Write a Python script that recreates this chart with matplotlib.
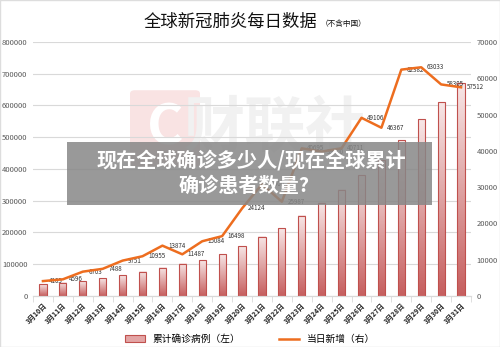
import numpy as np
import matplotlib.pyplot as plt
from matplotlib.patches import Rectangle, FancyBboxPatch
from matplotlib.lines import Line2D
from matplotlib.colors import LinearSegmentedColormap

plt.rcParams['font.family'] = ['Noto Sans CJK SC', 'DejaVu Sans']

dates = ['3月10日', '3月11日', '3月12日', '3月13日', '3月14日', '3月15日',
         '3月16日', '3月17日', '3月18日', '3月19日', '3月20日', '3月21日',
         '3月22日', '3月23日', '3月24日', '3月25日', '3月26日', '3月27日',
         '3月28日', '3月29日', '3月30日', '3月31日']
cumulative = [37000, 42000, 47000, 56000, 66000, 76000, 89000, 101000, 113000,
              132000, 156000, 186000, 213000, 252000, 293000, 334000, 381000,
              428000, 490000, 556000, 611000, 670000]
daily_new = [4105, 4596, 6703, 7488, 9751, 10955, 13874, 11487, 15084, 16498,
             24124, 30800, 25987, 40695, 39800, 40711, 49106, 46367, 62382,
             63033, 58305, 57512]

fig = plt.figure(figsize=(5, 3.47), dpi=100)
ax = fig.add_axes([0.066, 0.147, 0.876, 0.732])
ax.set_facecolor('none')
ax2 = ax.twinx()

x = np.arange(len(dates))

# bars with a vertical gradient, excel style
bars = ax.bar(x, cumulative, width=0.36, facecolor='none', edgecolor='#c0504d',
              linewidth=0.8, zorder=3)
cmap = LinearSegmentedColormap.from_list('pink', ['#c65f5f', '#f7e6e6'])
grad = np.linspace(0, 1, 100).reshape(-1, 1)
for b in bars:
    ax.imshow(grad, extent=(b.get_x(), b.get_x() + b.get_width(), 0, b.get_height()),
              origin='lower', cmap=cmap, aspect='auto', zorder=2)

ax.set_xlim(-0.5, 21.5)
ax.set_ylim(0, 800000)
ax.set_yticks(range(0, 800001, 100000))
ax.yaxis.grid(True, color='#d9d9d9', lw=0.8)
ax.set_axisbelow(True)

ax2.plot(x, daily_new, color='#ED6D1F', lw=1.8, zorder=4)
for xi, v in zip(x, daily_new):
    ax2.annotate(str(v), (xi, v), xytext=(4, 0), textcoords='offset points',
                 fontsize=4.5, ha='left', va='center', color='#333333')
ax2.set_ylim(0, 70000)
ax2.set_yticks(range(0, 70001, 10000))

for a in (ax, ax2):
    for s in ('left', 'right', 'top'):
        a.spines[s].set_visible(False)
    a.spines['bottom'].set_color('#d9d9d9')
    a.tick_params(axis='y', length=0, labelsize=5.5, labelcolor='#595959', pad=4)

ax.set_xticks(x)
ax.set_xticklabels(dates, rotation=45, ha='right', va='top', rotation_mode='anchor',
                   fontsize=5, fontweight='bold', color='#222222')
ax.set_xticks(np.arange(-0.5, 22, 1), minor=True)
ax.tick_params(axis='x', which='major', length=0, pad=4)
ax.tick_params(axis='x', which='minor', length=4, color='#d9d9d9')

# title
fig.text(0.46, 0.937, '全球新冠肺炎每日数据', fontsize=12.5, ha='center', va='center', color='#111111')
fig.text(0.642, 0.93, '（不含中国）', fontsize=5.5, ha='left', va='center', color='#111111')

# legend
handles = [Rectangle((0, 0), 1, 1, facecolor='#e3a5a5', edgecolor='#c0504d', lw=0.8),
           Line2D([0], [0], color='#ED6D1F', lw=1.8)]
fig.legend(handles, ['累计确诊病例（左）', '当日新增（右）'], loc='center',
           bbox_to_anchor=(0.5, 0.023), ncol=2, frameon=False, fontsize=7,
           handlelength=2, columnspacing=4)

# watermark
fig.patches.append(FancyBboxPatch((0.27, 0.53), 0.12, 0.2, boxstyle='round,pad=0.01',
                                  transform=fig.transFigure, facecolor='#f9e3e3',
                                  edgecolor='none', zorder=-1))
fig.text(0.33, 0.63, 'C', fontsize=40, fontweight='bold', color='white',
         ha='center', va='center', zorder=-1)
fig.text(0.55, 0.63, '财联社', fontsize=44, fontweight='bold', color='#f1f1f1',
         ha='center', va='center', zorder=-1)

# overlay banner
fig.patches.append(Rectangle((0.134, 0.409), 0.73, 0.182, transform=fig.transFigure,
                             facecolor='#878787', alpha=0.85, edgecolor='none', zorder=10))
fig.text(0.502, 0.539, '现在全球确诊多少人/现在全球累计', fontsize=14.5, fontweight='bold',
         color='white', ha='center', va='center', zorder=11)
fig.text(0.488, 0.467, '确诊患者数量?', fontsize=14.5, fontweight='bold',
         color='white', ha='center', va='center', zorder=11)

fig.patches.append(Rectangle((0, 0), 1, 1, transform=fig.transFigure, fill=False,
                             edgecolor='#dddddd', lw=1))

fig.savefig('out.png', dpi=100)
